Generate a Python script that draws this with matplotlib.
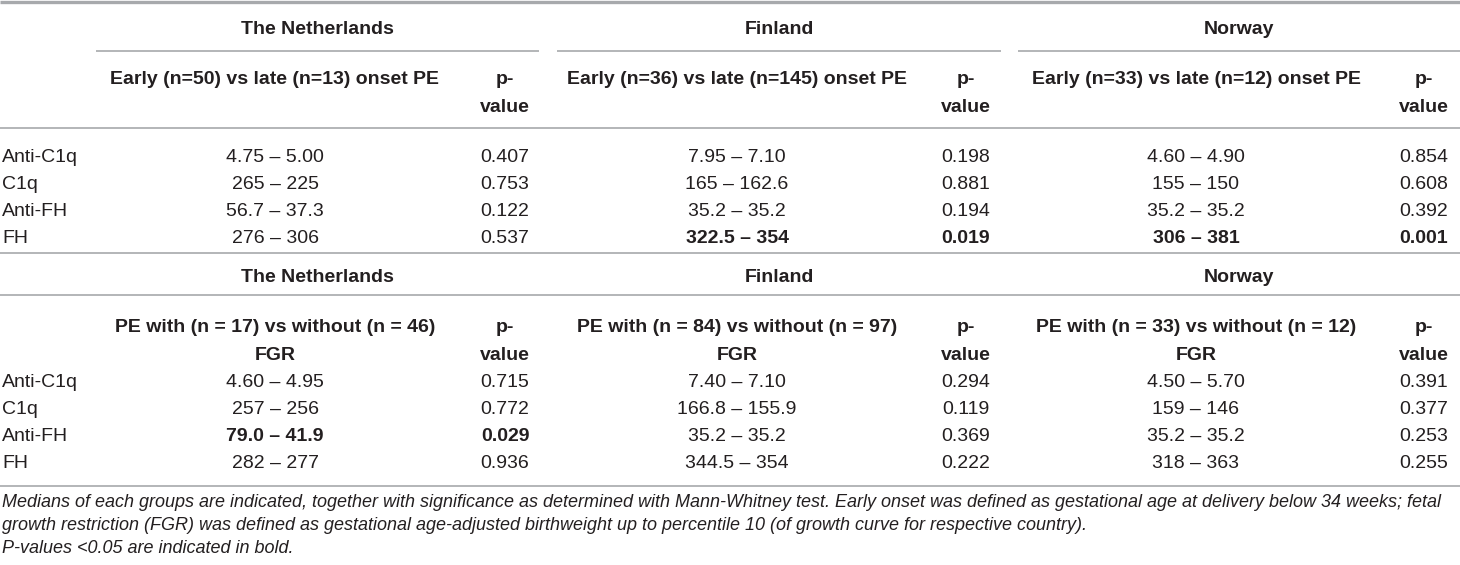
import matplotlib
matplotlib.use("Agg")
import matplotlib.pyplot as plt

plt.rcParams['font.family'] = ['Liberation Sans', 'DejaVu Sans']

# ---------------- data ----------------
countries = ["The Netherlands", "Finland", "Norway"]
markers = ["Anti-C1q", "C1q", "Anti-FH", "FH"]

onset_headers = ["Early (n=50) vs late (n=13) onset PE",
                 "Early (n=36) vs late (n=145) onset PE",
                 "Early (n=33) vs late (n=12) onset PE"]
onset_medians = [
    ["4.75 – 5.00", "265 – 225", "56.7 – 37.3", "276 – 306"],
    ["7.95 – 7.10", "165 – 162.6", "35.2 – 35.2", "322.5 – 354"],
    ["4.60 – 4.90", "155 – 150", "35.2 – 35.2", "306 – 381"],
]
onset_p = [
    ["0.407", "0.753", "0.122", "0.537"],
    ["0.198", "0.881", "0.194", "0.019"],
    ["0.854", "0.608", "0.392", "0.001"],
]

fgr_headers = ["PE with (n = 17) vs without (n = 46)\nFGR",
               "PE with (n = 84) vs without (n = 97)\nFGR",
               "PE with (n = 33) vs without (n = 12)\nFGR"]
fgr_medians = [
    ["4.60 – 4.95", "257 – 256", "79.0 – 41.9", "282 – 277"],
    ["7.40 – 7.10", "166.8 – 155.9", "35.2 – 35.2", "344.5 – 354"],
    ["4.50 – 5.70", "159 – 146", "35.2 – 35.2", "318 – 363"],
]
fgr_p = [
    ["0.715", "0.772", "0.029", "0.936"],
    ["0.294", "0.119", "0.369", "0.222"],
    ["0.391", "0.377", "0.253", "0.255"],
]

pval_header = "p-\nvalue"
footnote_lines = [
    "Medians of each groups are indicated, together with significance as determined with Mann-Whitney test. "
    "Early onset was defined as gestational age at delivery below 34 weeks; fetal",
    "growth restriction (FGR) was defined as gestational age-adjusted birthweight up to percentile 10 "
    "(of growth curve for respective country).",
    "P-values <0.05 are indicated in bold.",
]

# ---------------- layout ----------------
W, H = 1460, 565
fig = plt.figure(figsize=(W / 100, H / 100), dpi=100)
ax = fig.add_axes([0, 0, 1, 1])
ax.set_xlim(0, W)
ax.set_ylim(H, 0)
ax.axis('off')

TXT = '#231f20'
LINE = '#a7a9ac'
FS = 14
BASE = 7      # baseline offset below the visual centre of capitals
LSTEP = 28    # line step inside header cells

val_x = [275, 737, 1196]
p_x = [505, 966, 1424]
span = [(96, 539), (557, 1001), (1018, 1460)]
label_x = 2


def put(x, y, s, ha='center', bold=False, **kw):
    for i, line in enumerate(s.split('\n')):
        ax.text(x, y + BASE + i * LSTEP, line, ha=ha, va='baseline',
                fontsize=FS, fontweight='bold' if bold else 'normal',
                color=TXT, **kw)


def block(header_y, sub_y, row0, headers, medians, pvals, first):
    for c, (a, b) in enumerate(span):
        put((a + b) / 2, header_y, countries[c], bold=True)
        if first:
            ax.hlines(header_y + 24, a, b, color=LINE, lw=1.2)
    for c in range(3):
        put(val_x[c], sub_y, headers[c], bold=True)
        put(p_x[c], sub_y, pval_header, bold=True)
    for r, m in enumerate(markers):
        y = row0 + r * 27
        put(label_x, y, m, ha='left')
        for c in range(3):
            bold = float(pvals[c][r]) < 0.05
            put(val_x[c], y, medians[c][r], bold=bold)
            put(p_x[c], y, pvals[c][r], bold=bold)


ax.hlines(2, 0, W, color=LINE, lw=2.4)
block(27, 77, 155, onset_headers, onset_medians, onset_p, True)
ax.hlines(128, 0, W, color=LINE, lw=1.2)
ax.hlines(253, 0, W, color=LINE, lw=1.2)
block(275, 325, 380, fgr_headers, fgr_medians, fgr_p, False)
ax.hlines(295, 0, W, color=LINE, lw=1.2)
ax.hlines(486, 0, W, color=LINE, lw=1.2)

for i, line in enumerate(footnote_lines):
    ax.text(2, 500 + BASE + i * 23, line, ha='left', va='baseline',
            fontsize=13.0, fontstyle='italic', color=TXT)

fig.savefig('out.png', dpi=100)
